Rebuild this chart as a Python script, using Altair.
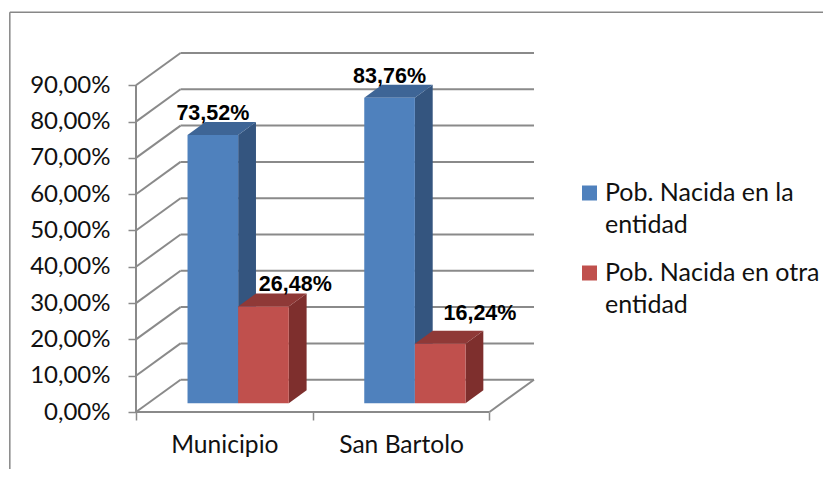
import altair as alt
import pandas as pd

# --- values ---
CATEGORIES = ["Municipio", "San Bartolo"]
SERIES = ["Pob. Nacida en la entidad", "Pob. Nacida en otra entidad"]
VALUES_LOCAL = [73.52, 83.76]
VALUES_OTHER = [26.48, 16.24]
Y_TICKS = [0, 10, 20, 30, 40, 50, 60, 70, 80, 90]

# --- layout of the oblique projection (in scale units) ---
DX, DY = 0.252, 8.9            # full depth of the floor
T0, T1 = 0.27, 0.67            # depth of front and back of the bars
GAP = 0.2235                   # category margin
BW = (1 - 2 * 0.2135) / 2
BAR_K = 1.004                  # bars sit slightly nearer than the axis plane
LABEL_SHIFT = [[(0, 0), (0.18, 0)], [(0, 0), (0.225, 2.4)]]
FRONT = {0: "#4F81BD", 1: "#C0504D"}
SIDE = {0: "#34557F", 1: "#7E2F2D"}
TOP = {0: "#3E6596", 1: "#8F3937"}
GREY = "#8A8A8A"
FONT = "Lato"

PW, PH = 398, 360
XD = [0, 2 + DX]
YD = [0, 99.17]
x_s = alt.Scale(domain=XD, nice=False, zero=False)
y_s = alt.Scale(domain=YD, nice=False, zero=False)

# wall, floor and frame lines
lines = []
for v in Y_TICKS:
    lines.append(dict(x=DX, x2=2 + DX, y=v + DY, y2=v + DY))
    lines.append(dict(x=0, x2=DX, y=v, y2=v + DY))
lines.append(dict(x=0, x2=2, y=0, y2=0))
lines.append(dict(x=2, x2=2 + DX, y=0, y2=DY))
lines.append(dict(x=0, x2=0, y=0, y2=90))
lines_df = pd.DataFrame(lines)

frame_df = pd.DataFrame([
    dict(x=-0.714, x2=-0.714, y=110.1, y2=-18.0),
    dict(x=-0.714, x2=3.95, y=110.1, y2=110.1),
])

rects, sides, tops, labels = [], [], [], []
for c in range(2):
    for s, vals in enumerate([VALUES_LOCAL, VALUES_OTHER]):
        v = vals[c]
        x0 = c + GAP + s * BW + T0 * DX
        x1 = x0 + BW
        b = T0 * DY
        t = b + v * BAR_K + 0.1
        d = (T1 - T0)
        rects.append(dict(x=x0, x2=x1, y=b, y2=t, serie=SERIES[s], o=c * 2 + s))
        sid = f"{c}-{s}"
        sides += [
            dict(id=sid, x=x1, y=t, y2=b, c=SIDE[s]),
            dict(id=sid, x=x1 + d * DX, y=t + d * DY, y2=b + d * DY, c=SIDE[s]),
        ]
        tops += [
            dict(id=sid, y=t, x=x0, x2=x1, c=TOP[s]),
            dict(id=sid, y=t + d * DY, x=x0 + d * DX, x2=x1 + d * DX, c=TOP[s]),
        ]
        sx, sy = LABEL_SHIFT[c][s]
        labels.append(dict(x=(x0 + x1) / 2 + sx, y=t + d * DY + sy,
                           t=f"{v:.2f}".replace(".", ",") + "%"))

rects_df, sides_df, tops_df, labels_df = map(pd.DataFrame, (rects, sides, tops, labels))

guide_x = alt.Axis(
    values=[0, 0.5, 1, 1.5, 2], title=None, domain=False, grid=False,
    tickColor=GREY, tickSize=8, tickWidth=1.5,
    tickOpacity=alt.ExprRef("datum.value % 1 == 0 ? 1 : 0"),
    labelExpr="datum.value == 0.5 ? 'Municipio' : datum.value == 1.5 ? 'San Bartolo' : ''",
    labelFont=FONT, labelFontSize=24.6, labelColor="#111111", labelPadding=13,
    labelAngle=0, labelFlush=False, labelOverlap=False,
)
guide_y = alt.Axis(
    values=Y_TICKS, title=None, domain=False, grid=False,
    tickColor=GREY, tickSize=8, tickWidth=1.5,
    labelExpr="replace(format(datum.value, '.2f'), '.', ',') + '%'",
    labelFont=FONT, labelFontSize=24, labelColor="#111111", labelPadding=18,
    labelOverlap=False,
)
X = alt.X("x:Q", scale=x_s, axis=guide_x, title=None)
Y = alt.Y("y:Q", scale=y_s, axis=guide_y, title=None)

base_lines = alt.Chart(lines_df).mark_rule(color=GREY, strokeWidth=2).encode(
    x=X, x2="x2:Q", y=Y, y2="y2:Q",
)
frame = alt.Chart(frame_df).mark_rule(color="#878787", strokeWidth=1.5, clip=False).encode(
    x=X, x2="x2:Q", y=Y, y2="y2:Q"
)

layers = [base_lines, frame]
for idx in range(4):
    sid = f"{idx // 2}-{idx % 2}"
    layers.append(
        alt.Chart(sides_df[sides_df.id == sid]).mark_area(orient="vertical", opacity=1).encode(
            x=X, y=alt.Y("y:Q", scale=y_s, axis=guide_y, title=None, stack=None), y2="y2:Q",
            color=alt.Color("c:N", scale=None),
        )
    )
    layers.append(
        alt.Chart(tops_df[tops_df.id == sid]).mark_area(orient="horizontal", opacity=1).encode(
            x=alt.X("x:Q", scale=x_s, axis=guide_x, title=None, stack=None), x2="x2:Q", y=Y,
            color=alt.Color("c:N", scale=None),
        )
    )
    legend = None
    if idx == 0:
        legend = alt.Legend(
            title=None, orient="none", legendX=441, legendY=128.5,
            symbolType="square", symbolSize=225, symbolStrokeWidth=0,
            labelFont=FONT, labelFontSize=25, labelColor="#111111", labelLimit=0,
            labelExpr="datum.value == 'Pob. Nacida en la entidad' ? ['Pob. Nacida en la', 'entidad'] : ['Pob. Nacida en otra', 'entidad']",
            rowPadding=22, labelOffset=3,
        )
    layers.append(
        alt.Chart(rects_df[rects_df.o == idx]).mark_rect(opacity=1).encode(
            x=X, x2="x2:Q", y=Y, y2="y2:Q",
            color=alt.Color("serie:N", scale=alt.Scale(domain=SERIES, range=[FRONT[0], FRONT[1]]), legend=legend),
        )
    )

text = alt.Chart(labels_df).mark_text(
    font="Liberation Sans", fontWeight="bold", fontSize=21.5, color="#000000",
    baseline="alphabetic", dy=-2, clip=False,
).encode(x=X, y=Y, text="t:N")
layers.append(text)

chart = (
    alt.layer(*layers)
    .properties(
        width=PW, height=PH,
        padding={"left": 128, "top": 44, "right": 289, "bottom": 57},
        autosize=alt.AutoSizeParams(type="none"),
        background="white",
        config=alt.Config(
            view=alt.ViewConfig(stroke=None),
            style={"guide-label": {"lineHeight": 32}},
        ),
    )
)
chart.save("out.html", embed_options={"renderer": "svg", "actions": False})
